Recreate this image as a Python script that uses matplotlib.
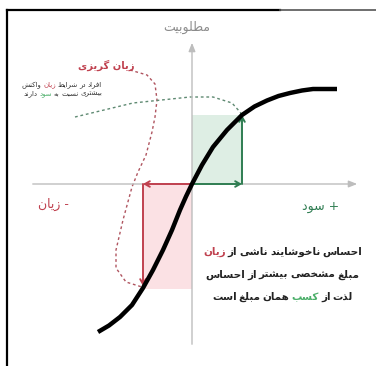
import numpy as np
import matplotlib.pyplot as plt
import matplotlib.transforms as mtransforms
from matplotlib.lines import Line2D
from matplotlib.patches import Rectangle

# utility curve (value function)
curve_x = [-1.88, -1.66, -1.44, -1.2, -0.98, -0.78, -0.58, -0.4, -0.24, -0.12,
           0.0, 0.2, 0.42, 0.7, 1.0, 1.25, 1.5, 1.73, 1.96, 2.2, 2.42, 2.9]
curve_y = [-2.96, -2.83, -2.66, -2.42, -2.08, -1.72, -1.32, -0.92, -0.52, -0.25,
           0.0, 0.38, 0.74, 1.08, 1.38, 1.55, 1.67, 1.76, 1.82, 1.87, 1.9, 1.9]

gain, gain_util = 1.0, 1.38
loss, loss_util = -0.98, -2.1

# dashed guide lines
red_dash_x = [-1.24, -0.9, -0.74, -0.7, -0.74, -0.8, -0.92, -1.08, -1.2,
              -1.38, -1.52, -1.52, -1.32, -1.0]
red_dash_y = [2.28, 2.18, 2.0, 1.68, 1.34, 1.04, 0.58, 0.24, -0.06,
              -0.72, -1.32, -1.68, -1.96, -2.06]
green_dash_x = [-2.34, -1.18, -0.04, 0.42, 0.8, 0.96, 1.0]
green_dash_y = [1.34, 1.62, 1.74, 1.74, 1.62, 1.44, 1.38]

RED = '#c0414f'
GREEN = '#2f7d52'
DARK = '#222222'

# Arabic / Persian presentation forms: (isolated, final, initial, medial)
FORMS = {
    'ا': (0xFE8D, 0xFE8E, None, None), 'ب': (0xFE8F, 0xFE90, 0xFE91, 0xFE92),
    'پ': (0xFB56, 0xFB57, 0xFB58, 0xFB59), 'ت': (0xFE95, 0xFE96, 0xFE97, 0xFE98),
    'ث': (0xFE99, 0xFE9A, 0xFE9B, 0xFE9C), 'ج': (0xFE9D, 0xFE9E, 0xFE9F, 0xFEA0),
    'چ': (0xFB7A, 0xFB7B, 0xFB7C, 0xFB7D), 'ح': (0xFEA1, 0xFEA2, 0xFEA3, 0xFEA4),
    'خ': (0xFEA5, 0xFEA6, 0xFEA7, 0xFEA8), 'د': (0xFEA9, 0xFEAA, None, None),
    'ذ': (0xFEAB, 0xFEAC, None, None), 'ر': (0xFEAD, 0xFEAE, None, None),
    'ز': (0xFEAF, 0xFEB0, None, None), 'ژ': (0xFB8A, 0xFB8B, None, None),
    'س': (0xFEB1, 0xFEB2, 0xFEB3, 0xFEB4), 'ش': (0xFEB5, 0xFEB6, 0xFEB7, 0xFEB8),
    'ص': (0xFEB9, 0xFEBA, 0xFEBB, 0xFEBC), 'ض': (0xFEBD, 0xFEBE, 0xFEBF, 0xFEC0),
    'ط': (0xFEC1, 0xFEC2, 0xFEC3, 0xFEC4), 'ظ': (0xFEC5, 0xFEC6, 0xFEC7, 0xFEC8),
    'ع': (0xFEC9, 0xFECA, 0xFECB, 0xFECC), 'غ': (0xFECD, 0xFECE, 0xFECF, 0xFED0),
    'ف': (0xFED1, 0xFED2, 0xFED3, 0xFED4), 'ق': (0xFED5, 0xFED6, 0xFED7, 0xFED8),
    'ک': (0xFB8E, 0xFB8F, 0xFB90, 0xFB91), 'گ': (0xFB92, 0xFB93, 0xFB94, 0xFB95),
    'ل': (0xFEDD, 0xFEDE, 0xFEDF, 0xFEE0), 'م': (0xFEE1, 0xFEE2, 0xFEE3, 0xFEE4),
    'ن': (0xFEE5, 0xFEE6, 0xFEE7, 0xFEE8), 'و': (0xFEED, 0xFEEE, None, None),
    'ه': (0xFEE9, 0xFEEA, 0xFEEB, 0xFEEC), 'ی': (0xFBFC, 0xFBFD, 0xFBFE, 0xFBFF),
}


def fa(text):
    # shape persian letters and return them in visual (left to right) order
    out = []
    for i, ch in enumerate(text):
        if ch not in FORMS:
            out.append(ch)
            continue
        prev = text[i - 1] if i > 0 else None
        nxt = text[i + 1] if i + 1 < len(text) else None
        jp = prev in FORMS and FORMS[prev][2] is not None
        jn = nxt in FORMS and FORMS[ch][2] is not None
        iso, fin, ini, med = FORMS[ch]
        if jp and jn:
            g = med
        elif jp:
            g = fin
        elif jn:
            g = ini
        else:
            g = iso
        out.append(chr(g))
    return ''.join(reversed(out))


fig = plt.figure(figsize=(3.76, 3.66), dpi=100)
ax = fig.add_axes([0, 0, 1, 1])
ax.set_xlim(-3.84, 3.68)
ax.set_ylim(-3.64, 3.68)
ax.axis('off')

# boxes
ax.add_patch(Rectangle((0, 0), gain, gain_util, color='#deeee4', lw=0, zorder=1))
ax.add_patch(Rectangle((loss, loss_util), -loss, -loss_util, color='#fbe1e4', lw=0, zorder=1))

# axes with arrows
ax.annotate('', xy=(3.36, 0), xytext=(-3.24, 0),
            arrowprops=dict(arrowstyle='-|>,head_length=0.5,head_width=0.2', color='#bdbdbd', lw=1))
ax.annotate('', xy=(0, 2.88), xytext=(0, -3.26),
            arrowprops=dict(arrowstyle='-|>,head_length=0.5,head_width=0.2', color='#bdbdbd', lw=1))

# dashed guides
ax.plot(red_dash_x, red_dash_y, color='#b05560', lw=1, ls=(0, (2, 2)), zorder=2)
ax.plot(green_dash_x, green_dash_y, color='#5f8a72', lw=1, ls=(0, (2, 2)), zorder=2)

# gain / loss arrows
arr = dict(arrowstyle='->,head_length=0.35,head_width=0.2', lw=1.4, shrinkA=0, shrinkB=0)
ax.annotate('', xy=(gain, 0), xytext=(0, 0), arrowprops=dict(color=GREEN, **arr), zorder=3)
ax.annotate('', xy=(gain, gain_util), xytext=(gain, 0), arrowprops=dict(color=GREEN, **arr), zorder=3)
ax.annotate('', xy=(loss, 0), xytext=(0, 0), arrowprops=dict(color=RED, **arr), zorder=3)
ax.annotate('', xy=(loss, loss_util + 0.06), xytext=(loss, 0), arrowprops=dict(color=RED, **arr), zorder=3)

# value curve
ax.plot(curve_x, curve_y, color='black', lw=3.2, solid_capstyle='butt',
        solid_joinstyle='round', zorder=4)

# labels
ax.text(-0.1, 3.14, fa('مطلوبیت'), color='#8c8c8c', fontsize=9, ha='center', va='center')
ax.text(-2.78, -0.4, fa('زیان') + ' -', color=RED, fontsize=9, ha='center', va='center')
ax.text(2.58, -0.44, fa('سود') + ' +', color=GREEN, fontsize=9, ha='center', va='center')
ax.text(-1.72, 2.38, fa('زیان گریزی'), color=RED, fontsize=7.2,
        fontweight='bold', ha='center', va='center')

renderer = fig.canvas.get_renderer()
ident = mtransforms.IdentityTransform()


def rtl_line(x, y, segs, size, weight='normal', gap=0.35):
    # segs in reading order, first one is the rightmost
    px, py = ax.transData.transform((x, y))
    for s, c in segs:
        for w in s.split(' '):
            if w == '':
                continue
            t = ax.text(px, py, fa(w), color=c, fontsize=size, fontweight=weight,
                        ha='right', va='center', transform=ident)
            px -= t.get_window_extent(renderer=renderer).width + size * gap


rtl_line(-1.8, 1.98, [('افراد در شرایط ', '#333333'), ('زیان', RED), (' واکنش', '#333333')], 5.0)
rtl_line(-1.8, 1.8, [('بیشتری نسبت به ', '#333333'), ('سود', '#4caf6a'), (' دارند', '#333333')], 5.0)

rtl_line(3.4, -1.36, [('احساس ناخوشایند ناشی از ', DARK), ('زیان', RED)], 7.5, 'bold', 0.28)
rtl_line(3.34, -1.82, [('مبلغ مشخصی بیشتر از احساس', DARK)], 7.5, 'bold', 0.28)
rtl_line(3.22, -2.26, [('لذت از ', DARK), ('کسب', '#4caf6a'), (' همان مبلغ است', DARK)], 7.5, 'bold', 0.28)

# picture frame
fig.add_artist(Line2D([7 / 376, 7 / 376], [0, 1 - 10 / 366], color='black', lw=1.6))
fig.add_artist(Line2D([7 / 376, 280 / 376], [1 - 10 / 366, 1 - 10 / 366], color='black', lw=1.6))
fig.add_artist(Line2D([280 / 376, 1], [1 - 10 / 366, 1 - 10 / 366], color='#555555', lw=1.2))

fig.savefig('out.png', dpi=100)
